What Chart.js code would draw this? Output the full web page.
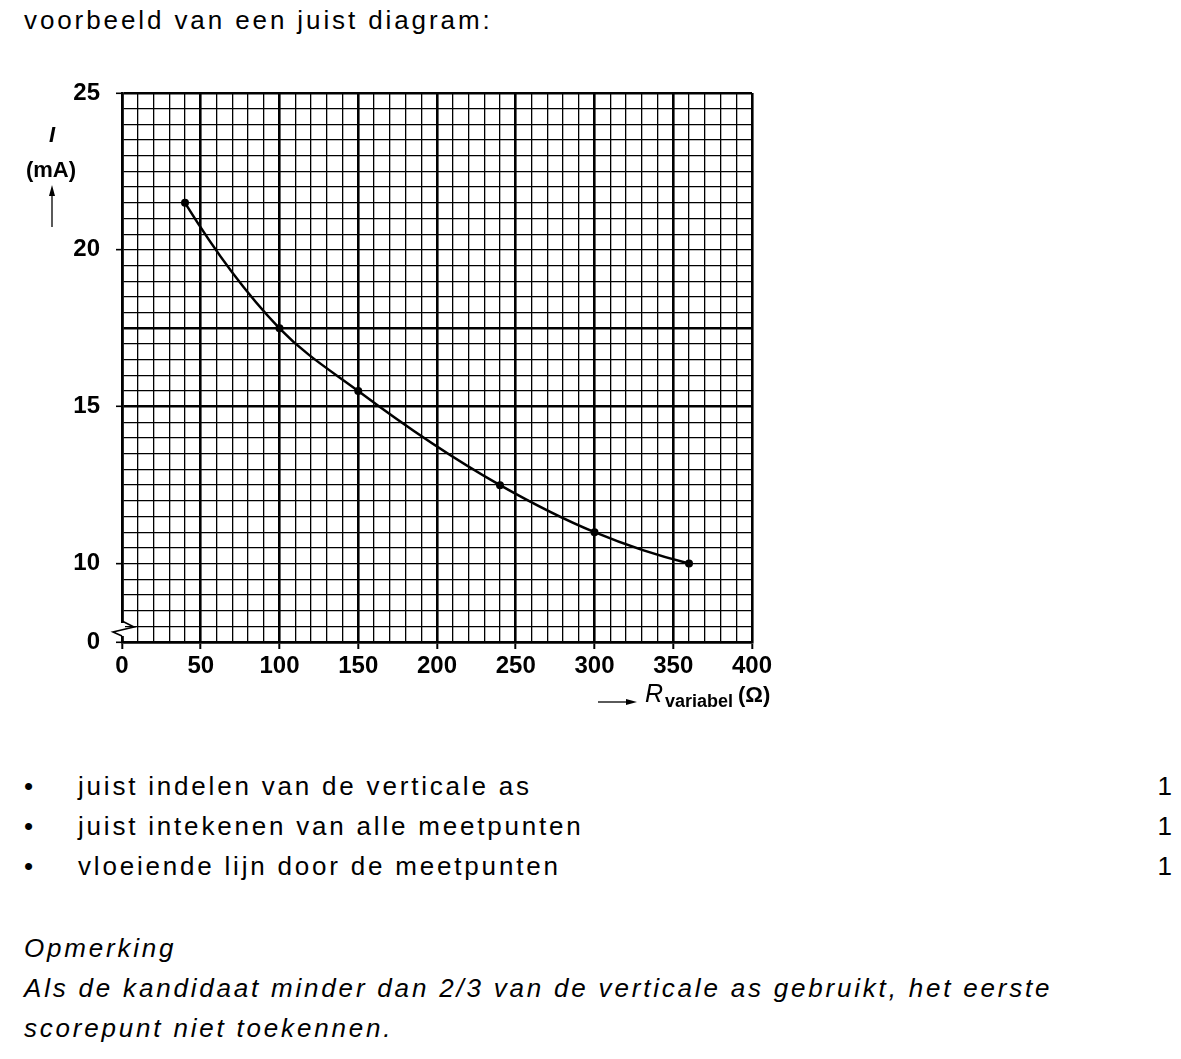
<!DOCTYPE html>
<html lang="nl">
<head>
<meta charset="utf-8">
<title>voorbeeld van een juist diagram</title>
<script src="https://cdn.jsdelivr.net/npm/chart.js@4.4.1/dist/chart.umd.min.js"></script>
<style>
    html, body { margin: 0; padding: 0; background: #fff; }
    body {
        position: relative;
        width: 1181px;
        height: 1059px;
        overflow: hidden;
        font-family: "Liberation Sans", Arial, sans-serif;
        color: #000;
    }
    .txt {
        position: absolute;
        left: 24px;
        font-size: 26px;
        line-height: 40px;
        letter-spacing: 2.8px;
        white-space: nowrap;
    }
    .bullets { top: 766px; left: 0; width: 1181px; }
    .bullets div { position: relative; height: 40px; }
    .bullets .dot { position: absolute; left: 24px; }
    .bullets .item { position: absolute; left: 78px; }
    .bullets .score { position: absolute; right: 9px; letter-spacing: 0; }
    .note { top: 928px; font-style: italic; }
    #chartWrap { position: absolute; left: 0; top: 60px; width: 800px; height: 680px; }
</style>
</head>
<body>
<div class="txt" style="top:0px; letter-spacing:2.9px">voorbeeld van een juist diagram:</div>

<div id="chartWrap"><canvas id="diagram" width="800" height="680"></canvas></div>

<div class="txt bullets">
    <div><span class="dot">•</span><span class="item">juist indelen van de verticale as</span><span class="score">1</span></div>
    <div><span class="dot">•</span><span class="item">juist intekenen van alle meetpunten</span><span class="score">1</span></div>
    <div><span class="dot">•</span><span class="item">vloeiende lijn door de meetpunten</span><span class="score">1</span></div>
</div>

<div class="txt note">Opmerking<br>Als de kandidaat minder dan 2/3 van de verticale as gebruikt, het eerste<br>scorepunt niet toekennen.</div>

<script>
const resistance = [40, 100, 150, 240, 300, 360];
const current = [21.5, 17.5, 15.5, 12.5, 11.0, 10.0];
const xTickLabels = [0, 50, 100, 150, 200, 250, 300, 350, 400];
const yTickLabels = [10, 15, 20, 25];
const yBreakLabel = '0';

const thin = 1.3;
const thick = 2.6;
const tickFont = { family: '"Liberation Sans", Arial, sans-serif', size: 24, weight: 'bold' };

// graph paper: heavy lines every 50 ohm, and at a few current values
const xGridWidth = (ctx) => (ctx.tick && ctx.tick.value % 50 === 0 ? thick : thin);
const yGridWidth = (ctx) => (ctx.tick && [7.5, 15, 17.5, 25].includes(ctx.tick.value) ? thick : thin);

const arrowHead = (ctx, x, y, dx, dy) => {
    const len = 11;
    const half = 3;
    ctx.beginPath();
    ctx.moveTo(x, y);
    ctx.lineTo(x - dx * len - dy * half, y - dy * len - dx * half);
    ctx.lineTo(x - dx * len + dy * half, y - dy * len + dx * half);
    ctx.closePath();
    ctx.fill();
};

// smooth hand-drawn style curve: tangents from the parabola through neighbouring points
const smoothCurve = {
    id: 'smoothCurve',
    beforeDatasetDraw(chart, args) {
        const line = args.meta.dataset;
        const pts = args.meta.data;
        const n = pts.length;
        if (!line || n < 3) return;
        line.updateControlPoints(chart.chartArea, 'x');
        const slope = (i) => {
            const a = Math.min(Math.max(i - 1, 0), n - 3);
            const p0 = pts[a], p1 = pts[a + 1], p2 = pts[a + 2];
            const d01 = (p1.y - p0.y) / (p1.x - p0.x);
            const d12 = (p2.y - p1.y) / (p2.x - p1.x);
            const d012 = (d12 - d01) / (p2.x - p0.x);
            const x = pts[i].x;
            return d01 + d012 * ((x - p0.x) + (x - p1.x));
        };
        pts.forEach((p, i) => {
            const m = slope(i);
            if (i > 0) {
                const h = (p.x - pts[i - 1].x) / 3;
                p.cp1x = p.x - h;
                p.cp1y = p.y - m * h;
            }
            if (i < n - 1) {
                const h = (pts[i + 1].x - p.x) / 3;
                p.cp2x = p.x + h;
                p.cp2y = p.y + m * h;
            }
        });
    }
};

const axisDecor = {
    id: 'axisDecor',
    afterDraw(chart) {
        const { ctx, chartArea } = chart;
        const { left, right, bottom } = chartArea;
        ctx.save();
        ctx.strokeStyle = '#000';

        // broken axis symbol
        ctx.fillStyle = '#fff';
        ctx.fillRect(left - 3, bottom - 19, 6, 13);
        ctx.fillStyle = '#000';
        ctx.lineWidth = 1.6;
        ctx.beginPath();
        ctx.moveTo(left, bottom - 21);
        ctx.lineTo(left + 12, bottom - 15);
        ctx.lineTo(left - 9, bottom - 10);
        ctx.lineTo(left, bottom - 6);
        ctx.stroke();

        // y-axis title
        ctx.textAlign = 'center';
        ctx.textBaseline = 'alphabetic';
        ctx.font = 'italic bold 22px "Liberation Sans", Arial, sans-serif';
        ctx.fillText('I', left - 70, 82);
        ctx.font = 'bold 22px "Liberation Sans", Arial, sans-serif';
        ctx.fillText('(mA)', left - 71, 117);
        ctx.lineWidth = 1.3;
        ctx.beginPath();
        ctx.moveTo(left - 70, 167);
        ctx.lineTo(left - 70, 132);
        ctx.stroke();
        arrowHead(ctx, left - 70, 125, 0, -1);

        // x-axis title
        const ty = bottom + 60;
        ctx.beginPath();
        ctx.moveTo(right - 154, ty);
        ctx.lineTo(right - 122, ty);
        ctx.stroke();
        arrowHead(ctx, right - 115, ty, 1, 0);
        ctx.textAlign = 'left';
        ctx.font = 'italic 25px "Liberation Sans", Arial, sans-serif';
        ctx.fillText('R', right - 107, ty);
        ctx.font = 'bold 18px "Liberation Sans", Arial, sans-serif';
        ctx.fillText('variabel', right - 87, ty + 5);
        ctx.font = 'bold 22px "Liberation Sans", Arial, sans-serif';
        ctx.fillText('(Ω)', right - 14, ty);
        ctx.restore();
    }
};

new Chart(document.getElementById('diagram'), {
    type: 'scatter',
    data: {
        datasets: [{
            data: resistance.map((r, i) => ({ x: r, y: current[i] })),
            showLine: true,
            tension: 0.4,
            borderColor: '#000',
            borderWidth: 2.5,
            pointRadius: 4,
            pointBackgroundColor: '#000',
            pointBorderWidth: 0
        }]
    },
    options: {
        responsive: false,
        animation: false,
        layout: { autoPadding: false, padding: { left: 0, top: 33, right: 48, bottom: 58 } },
        plugins: {
            legend: { display: false },
            tooltip: { enabled: false }
        },
        scales: {
            x: {
                type: 'linear',
                min: 0,
                max: 400,
                afterFit: (scale) => { scale.height = 40; },
                ticks: {
                    stepSize: 10,
                    maxTicksLimit: 1000,
                    autoSkip: false,
                    maxRotation: 0,
                    padding: 3,
                    color: '#000',
                    font: tickFont,
                    callback: (value) => (xTickLabels.includes(value) ? String(value) : '')
                },
                grid: {
                    color: '#000',
                    lineWidth: xGridWidth,
                    tickLength: 7,
                    tickWidth: 2,
                    tickColor: (ctx) => (ctx.tick && xTickLabels.includes(ctx.tick.value) ? '#000' : 'rgba(0,0,0,0)')
                },
                border: { display: true, color: '#000', width: thick }
            },
            y: {
                type: 'linear',
                min: 7.5,
                max: 25,
                afterFit: (scale) => { scale.width = 122; },
                ticks: {
                    stepSize: 0.5,
                    maxTicksLimit: 1000,
                    autoSkip: false,
                    padding: 16,
                    color: '#000',
                    font: tickFont,
                    callback: (value) => {
                        if (value === 7.5) return yBreakLabel;
                        return yTickLabels.includes(value) ? String(value) : '';
                    }
                },
                grid: {
                    color: '#000',
                    lineWidth: yGridWidth,
                    tickLength: 6,
                    tickWidth: 1.6,
                    tickColor: (ctx) => (ctx.tick && (ctx.tick.value === 7.5 || yTickLabels.includes(ctx.tick.value)) ? '#000' : 'rgba(0,0,0,0)')
                },
                border: { display: true, color: '#000', width: thick }
            }
        }
    },
    plugins: [smoothCurve, axisDecor]
});
</script>
</body>
</html>
